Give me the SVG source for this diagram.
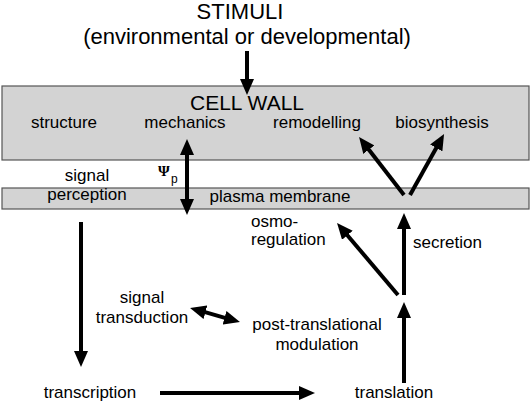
<svg xmlns="http://www.w3.org/2000/svg" width="531" height="405" viewBox="0 0 531 405">
<defs>
<style>
text,tspan{font-family:"Liberation Sans",Arial,sans-serif;fill:#000}
.t{font-size:17px}
.big{font-size:22px}
.cw{font-size:21px}
.box{fill:#d3d3d3;stroke:#555;stroke-width:1.2}
.arr{stroke:#000;stroke-width:4;fill:none;marker-end:url(#ah)}
.dbl{marker-start:url(#ah)}
</style>
<marker id="ah" markerUnits="userSpaceOnUse" markerWidth="16" markerHeight="14" refX="4" refY="7" orient="auto-start-reverse" viewBox="0 0 16 14">
<path d="M0,0 L16,7 L0,14 z" fill="#000"/>
</marker>
</defs>
<rect width="531" height="405" fill="#fff"/>
<g id="stimuli">
<text class="big" x="240" y="19" text-anchor="middle">STIMULI</text>
<text class="big" x="247" y="44" text-anchor="middle">(environmental or developmental)</text>
</g>
<g id="cell-wall">
<rect class="box" x="2" y="86" width="527" height="74"/>
<text class="cw" x="247" y="110" text-anchor="middle">CELL WALL</text>
<text class="t" x="64" y="128" text-anchor="middle">structure</text>
<text class="t" x="185" y="128" text-anchor="middle">mechanics</text>
<text class="t" x="317" y="128" text-anchor="middle">remodelling</text>
<text class="t" x="442" y="128" text-anchor="middle">biosynthesis</text>
</g>
<g id="plasma-membrane">
<rect class="box" x="2" y="188" width="527" height="21"/>
<text class="t" x="280" y="202" text-anchor="middle">plasma membrane</text>
</g>
<g id="signal-perception">
<text class="t" x="87" y="181" text-anchor="middle">signal</text>
<text class="t" x="87" y="200" text-anchor="middle">perception</text>
</g>
<g id="psi-p">
<text x="158" y="176" font-size="15" style="font-family:'Liberation Serif',serif;font-weight:bold">Ψ</text>
<text x="171" y="183" font-size="12">p</text>
</g>
<g id="osmoregulation">
<text class="t" x="251" y="227">osmo-</text>
<text class="t" x="251" y="245">regulation</text>
</g>
<g id="secretion">
<text class="t" x="413" y="248">secretion</text>
</g>
<g id="signal-transduction">
<text class="t" x="142" y="303" text-anchor="middle">signal</text>
<text class="t" x="142" y="323" text-anchor="middle">transduction</text>
</g>
<g id="post-translational">
<text class="t" x="317" y="330" text-anchor="middle">post-translational</text>
<text class="t" x="317" y="350" text-anchor="middle">modulation</text>
</g>
<g id="transcription">
<text class="t" x="90" y="398" text-anchor="middle">transcription</text>
</g>
<g id="translation">
<text class="t" x="394" y="398" text-anchor="middle">translation</text>
</g>
<g id="connectors">
<line class="arr" x1="247" y1="51" x2="247" y2="83"/>
<line class="arr dbl" x1="187" y1="151" x2="187" y2="203"/>
<line class="arr" x1="404" y1="195" x2="366.4" y2="146.5"/>
<line class="arr" x1="410" y1="195" x2="438.2" y2="144.5"/>
<line class="arr" x1="404" y1="295" x2="404" y2="225"/>
<line class="arr" x1="398" y1="295" x2="344.8" y2="232.2"/>
<line class="arr" x1="404" y1="383" x2="404" y2="314"/>
<line class="arr" x1="81" y1="222" x2="81" y2="355"/>
<line class="arr" x1="160" y1="393" x2="303" y2="393"/>
<line class="arr dbl" x1="201.6" y1="311.2" x2="228.4" y2="318.8"/>
</g>
</svg>
